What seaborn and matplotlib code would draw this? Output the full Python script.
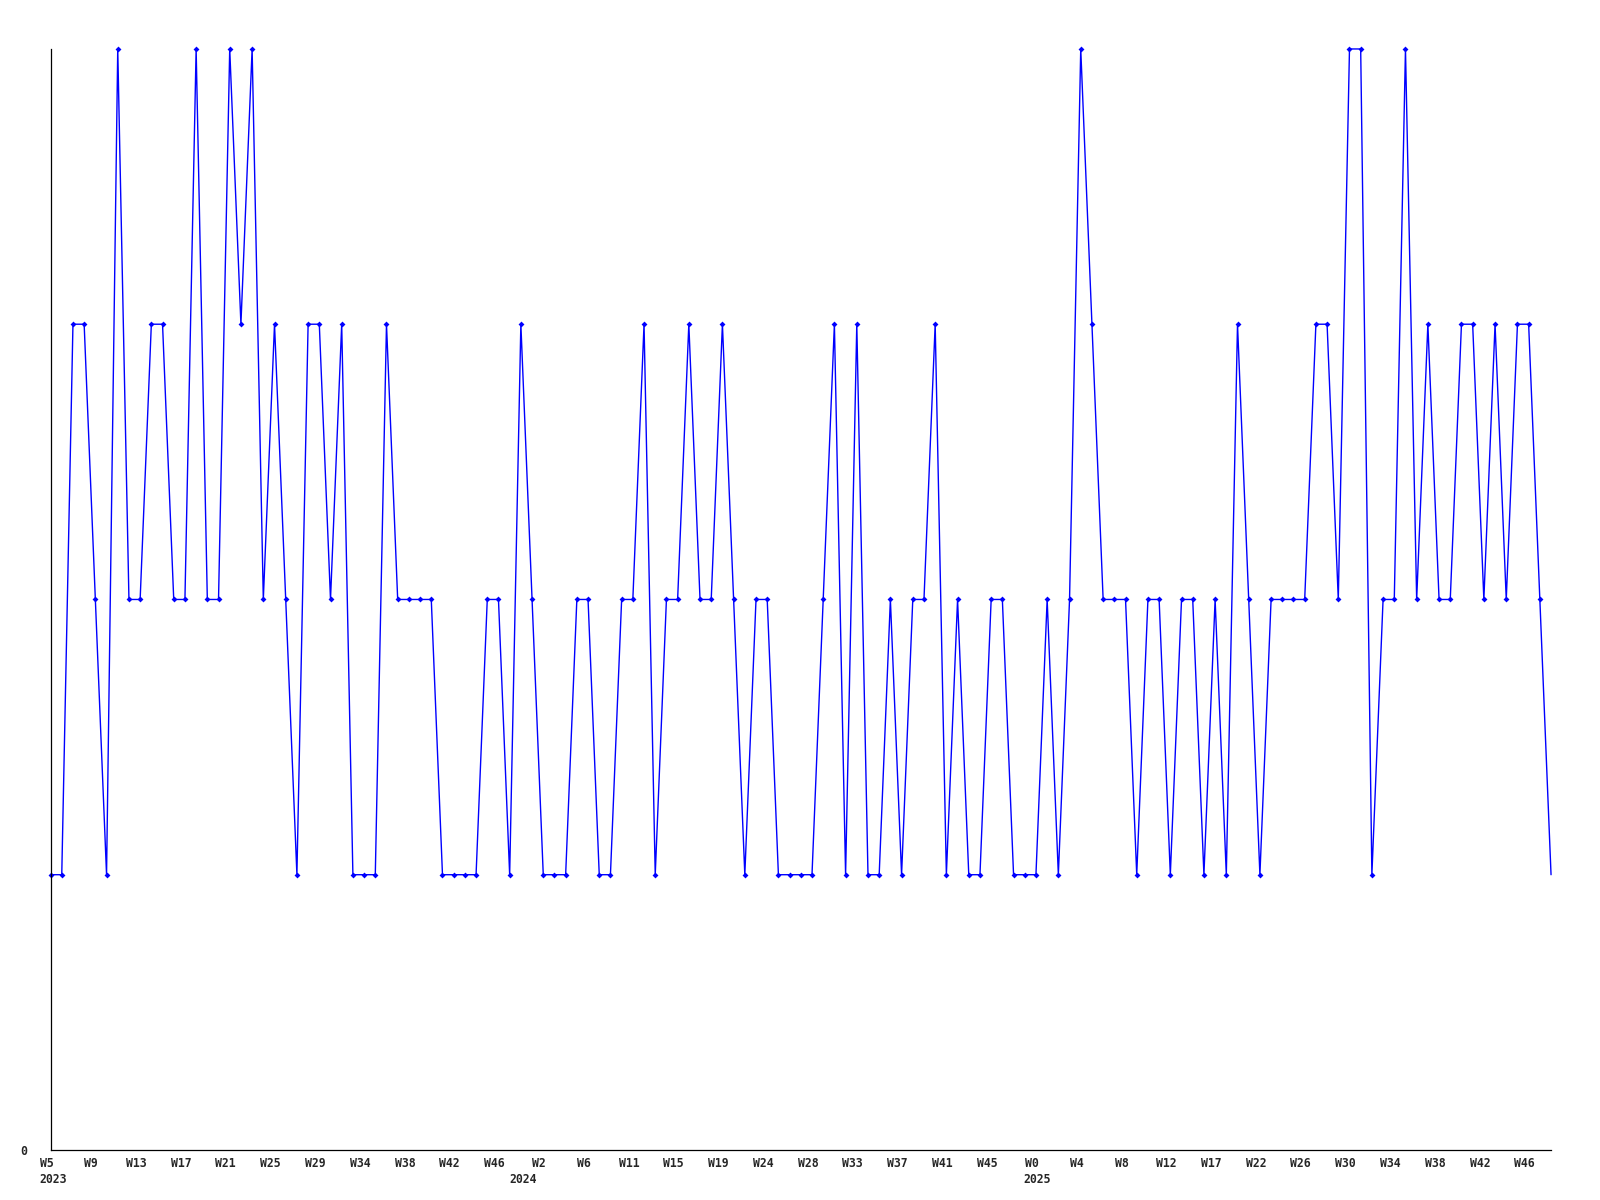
import pandas as pd
import matplotlib
matplotlib.use('Agg')
import matplotlib.pyplot as plt
import matplotlib.transforms as mtransforms
import seaborn as sns

# values per point (levels 1-4)
values = [1, 1, 3, 3, 2, 1, 4, 2, 2, 3,
          3, 2, 2, 4, 2, 2, 4, 3, 4, 2,
          3, 2, 1, 3, 3, 2, 3, 1, 1, 1,
          3, 2, 2, 2, 2, 1, 1, 1, 1, 2,
          2, 1, 3, 2, 1, 1, 1, 2, 2, 1,
          1, 2, 2, 3, 1, 2, 2, 3, 2, 2,
          3, 2, 1, 2, 2, 1, 1, 1, 1, 2,
          3, 1, 3, 1, 1, 2, 1, 2, 2, 3,
          1, 2, 1, 1, 2, 2, 1, 1, 1, 2,
          1, 2, 4, 3, 2, 2, 2, 1, 2, 2,
          1, 2, 2, 1, 2, 1, 3, 2, 1, 2,
          2, 2, 2, 3, 3, 2, 4, 4, 1, 2,
          2, 4, 2, 3, 2, 2, 3, 3, 2, 3,
          2, 3, 3, 2, 1]

# week labels, one every 4 points
week_labels = ['W5', 'W9', 'W13', 'W17', 'W21', 'W25', 'W29', 'W34', 'W38', 'W42', 'W46',
               'W2', 'W6', 'W11', 'W15', 'W19', 'W24', 'W28', 'W33', 'W37', 'W41', 'W45',
               'W0', 'W4', 'W8', 'W12', 'W17', 'W22', 'W26', 'W30', 'W34', 'W38', 'W42', 'W46']
year_labels = ['2023', '2024', '2025']
year_pos = [0.2, 42.2, 88.1]

df = pd.DataFrame({'idx': range(len(values)), 'value': values})

sns.set_style('white')
plt.rcParams['font.family'] = ['DejaVu Sans Mono']
plt.rcParams['font.weight'] = 'bold'

fig = plt.figure(figsize=(16, 12), dpi=100)
ax = fig.add_axes([0.0316, 0.0417, 0.9378, 0.9175])

sns.lineplot(data=df, x='idx', y='value', ax=ax, color='#0000ff', linewidth=1,
             marker='D', markersize=3, markeredgewidth=0,
             markevery=list(range(len(values) - 1)), clip_on=False)

ax.set_xlim(0, len(values) - 1)
ax.set_ylim(0, 4)

# x ticks with week labels
ax.set_xticks(range(0, 4 * len(week_labels), 4))
ax.set_xticklabels(week_labels, fontsize=8.3, fontweight='bold')
ax.tick_params(axis='x', length=0, pad=5)
shift = mtransforms.ScaledTranslation(-4 / 100, 0, fig.dpi_scale_trans)
for lab in ax.get_xticklabels():
    lab.set_transform(lab.get_transform() + shift)

# year labels below the week labels
for pos, yr in zip(year_pos, year_labels):
    ax.text(pos, -0.027, yr, transform=ax.get_xaxis_transform(), ha='center', va='center',
            fontsize=8.3, fontweight='bold')

ax.set_yticks([0])
ax.set_yticklabels(['0'], fontsize=8.3, fontweight='bold')
ax.tick_params(axis='y', length=0, pad=17)

ax.set_xlabel('')
ax.set_ylabel('')
sns.despine(ax=ax)
for side in ['left', 'bottom']:
    ax.spines[side].set_color('black')
    ax.spines[side].set_linewidth(0.9)

fig.savefig('out.png', dpi=100)
